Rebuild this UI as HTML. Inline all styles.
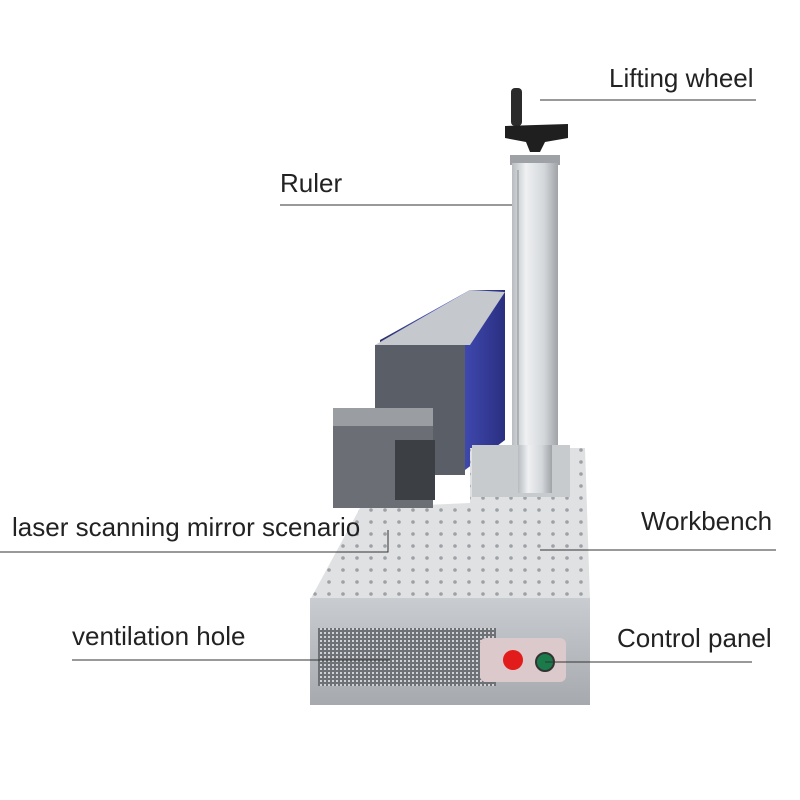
<!DOCTYPE html>
<html><head><meta charset="utf-8"><style>
html,body{margin:0;padding:0;background:#fff}
.w{position:relative;width:800px;height:800px;overflow:hidden;font-family:"Liberation Sans",sans-serif}
.t{position:absolute;font-size:26px;color:#222;white-space:nowrap;line-height:30px}
</style></head><body><div class="w">
<svg width="800" height="800" style="position:absolute;left:0;top:0">
<defs>
<linearGradient id="col" x1="0" x2="1"><stop offset="0" stop-color="#b8bcc0"/><stop offset=".3" stop-color="#eef0f2"/><stop offset=".7" stop-color="#d4d7da"/><stop offset="1" stop-color="#9fa3a7"/></linearGradient>
<linearGradient id="blue" x1="0" x2="1"><stop offset="0" stop-color="#2a2f6a"/><stop offset=".5" stop-color="#4a56c8"/><stop offset="1" stop-color="#2a2f80"/></linearGradient>
<linearGradient id="front" x1="0" y1="0" x2="0" y2="1"><stop offset="0" stop-color="#c9ccd0"/><stop offset="1" stop-color="#a6a9ad"/></linearGradient>
<pattern id="dots" width="14" height="12" patternUnits="userSpaceOnUse"><circle cx="7" cy="6" r="1.8" fill="#8d9094"/></pattern>
<pattern id="vent" width="4" height="4" patternUnits="userSpaceOnUse"><rect width="4" height="4" fill="#6e7176"/><rect width="2" height="2" fill="#cfd1d4"/></pattern>
</defs>
<rect x="511" y="88" width="11" height="38" rx="4" fill="#2b2b2b"/>
<path d="M505 126 L568 124 L568 138 L545 142 L540 152 L530 152 L526 142 L505 138Z" fill="#1f1f1f"/>
<rect x="510" y="155" width="50" height="10" fill="#9ea2a6"/>
<rect x="512" y="163" width="46" height="330" fill="url(#col)"/>
<line x1="518" y1="170" x2="518" y2="485" stroke="#8a8e92" stroke-width="1"/>
<polygon points="380,340 470,290 505,290 505,440 465,470 380,470" fill="url(#blue)"/>
<polygon points="375,345 465,345 465,475 375,475" fill="#5a5e66"/>
<polygon points="375,345 470,290 505,292 470,345" fill="#c5c8cc"/>
<rect x="472" y="445" width="98" height="55" fill="#c4c7ca"/>
<polygon points="360,508 470,503 470,448 585,448 590,600 310,600" fill="#dfe1e3"/>
<polygon points="360,508 470,503 470,448 585,448 590,600 310,600" fill="url(#dots)" opacity=".8"/>
<rect x="472" y="445" width="98" height="52" fill="#c8cbce"/>
<rect x="518" y="445" width="34" height="48" fill="url(#col)"/>
<rect x="333" y="408" width="100" height="100" fill="#6b6f75"/>
<rect x="333" y="408" width="100" height="18" fill="#9a9ea3"/>
<rect x="395" y="440" width="40" height="60" fill="#3c3f44"/>
<rect x="310" y="598" width="280" height="107" fill="url(#front)"/>
<rect x="318" y="628" width="178" height="58" fill="url(#vent)"/>
<rect x="480" y="638" width="86" height="44" rx="6" fill="#dcc9cc"/>
<circle cx="513" cy="660" r="10" fill="#e21b1b"/>
<circle cx="545" cy="662" r="9" fill="#1b7a4a" stroke="#333" stroke-width="2"/>
<g stroke="#333" stroke-width="1" fill="none">
<line x1="540" y1="100" x2="756" y2="100"/>
<line x1="280" y1="205" x2="512" y2="205"/>
<polyline points="0,552 388,552 388,530"/>
<line x1="540" y1="550" x2="776" y2="550"/>
<line x1="72" y1="660" x2="390" y2="660"/>
<line x1="545" y1="662" x2="752" y2="662"/>
</g>
</svg>
<div class="t" style="left:609px;top:63px">Lifting wheel</div>
<div class="t" style="left:280px;top:168px">Ruler</div>
<div class="t" style="left:12px;top:512px">laser scanning mirror scenario</div>
<div class="t" style="left:641px;top:506px">Workbench</div>
<div class="t" style="left:72px;top:621px">ventilation hole</div>
<div class="t" style="left:617px;top:623px">Control panel</div>
</div></body></html>
